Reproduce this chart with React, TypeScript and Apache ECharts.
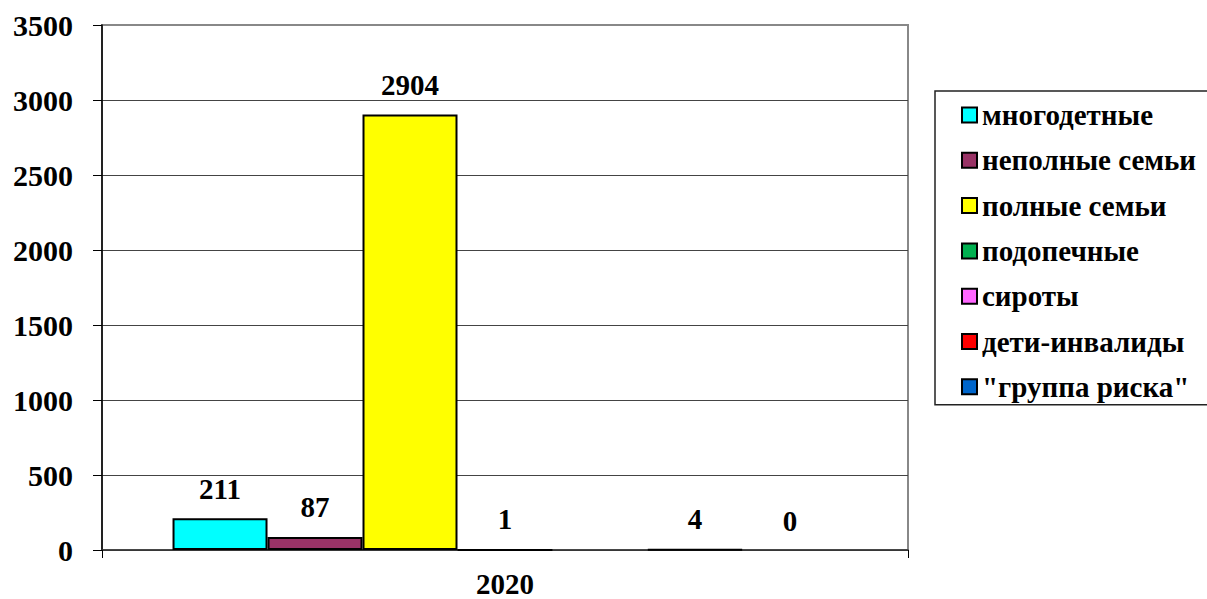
import React, { useEffect, useRef } from "react";
import * as echarts from "echarts";

const categories = ["2020"];
const seriesNames = [
  "многодетные",
  "неполные семьи",
  "полные семьи",
  "подопечные",
  "сироты",
  "дети-инвалиды",
  "\"группа риска\"",
];
const seriesValues: (number | null)[] = [211, 87, 2904, 1, null, 4, 0];
const seriesColors = ["#00FFFF", "#993366", "#FFFF00", "#00B050", "#FF66FF", "#FF0000", "#0066CC"];
const yMin = 0;
const yMax = 3500;
const yInterval = 500;

const FONT = '"Liberation Serif", "DejaVu Serif", serif';

export default function App() {
  const ref = useRef<HTMLDivElement>(null);
  useEffect(() => {
    if (!ref.current) return;
    const chart = echarts.init(ref.current, undefined, { renderer: "svg" });
    const splitColors = ["#444", "#444", "#444", "#444", "#444", "#444", "#444", "#888"];
    chart.setOption({
      animation: false,
      backgroundColor: "#fff",
      textStyle: { fontFamily: FONT },
      grid: {
        left: 102,
        right: 299,
        top: 25,
        bottom: 49,
        show: true,
        borderColor: "#888",
        borderWidth: 2,
        backgroundColor: "transparent",
      },
      legend: {
        orient: "vertical",
        left: 935,
        top: 91,
        padding: [9, 13, 3, 26],
        itemGap: 15.3,
        itemWidth: 15,
        itemHeight: 15,
        icon: "rect",
        borderColor: "#222",
        borderWidth: 1.5,
        itemStyle: { borderColor: "#000", borderWidth: 2 },
        textStyle: {
          fontFamily: FONT,
          fontWeight: "bold",
          fontSize: 29,
          lineHeight: 30,
          color: "#000",
        },
        data: seriesNames,
      },
      xAxis: {
        type: "category",
        data: categories,
        axisLine: { show: true, lineStyle: { color: "#333", width: 1.5 } },
        axisTick: { show: true, alignWithLabel: false, length: 8, lineStyle: { color: "#000" } },
        axisLabel: {
          fontFamily: FONT,
          fontWeight: "bold",
          fontSize: 29,
          color: "#000",
          margin: 19,
        },
        splitLine: { show: false },
      },
      yAxis: {
        type: "value",
        min: yMin,
        max: yMax,
        interval: yInterval,
        axisLine: { show: true, lineStyle: { color: "#000", width: 1.5 } },
        axisTick: { show: true, length: 9, lineStyle: { color: "#000" } },
        axisLabel: {
          fontFamily: FONT,
          fontWeight: "bold",
          fontSize: 30,
          color: "#000",
          margin: 29,
          formatter: (v: number) => String(v),
        },
        splitLine: { show: true, lineStyle: { color: splitColors, width: 1 } },
      },
      series: seriesNames.map((name, i) => ({
        name,
        type: "bar",
        data: [
          {
            value: seriesValues[i],
            itemStyle: { borderWidth: seriesValues[i] === 0 ? 0 : 2 },
          },
        ],
        barGap: "0%",
        barCategoryGap: "17.5%",
        itemStyle: {
          color: seriesColors[i],
          borderColor: "#000",
          borderWidth: 2,
        },
        label: {
          show: true,
          position: "top",
          distance: 15,
          fontFamily: FONT,
          fontWeight: "bold",
          fontSize: 29,
          color: "#000",
        },
      })),
    });
    return () => chart.dispose();
  }, []);
  return (
    <div
      ref={ref}
      style={{ position: "fixed", left: 0, top: 0, width: 1207, height: 599 }}
    />
  );
}
